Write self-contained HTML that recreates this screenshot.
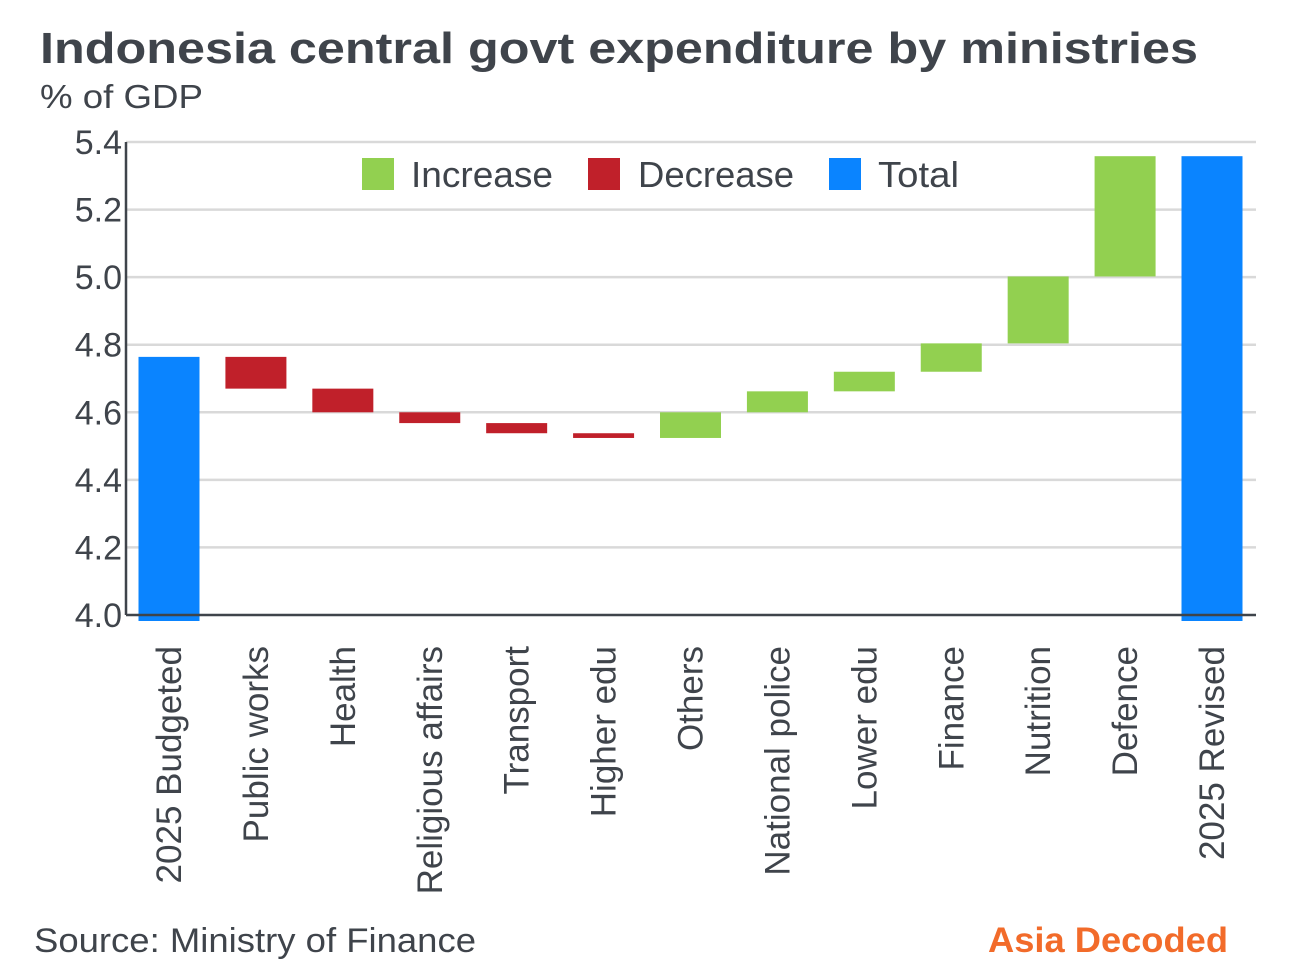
<!DOCTYPE html>
<html><head><meta charset="utf-8"><style>
body{margin:0;background:#fff;}
svg{display:block;font-family:"Liberation Sans",sans-serif;}
</style></head><body>
<svg id="c" width="1299" height="967">
<text x="40" y="63" font-size="44" font-weight="bold" fill="#3f444b" textLength="1158" lengthAdjust="spacingAndGlyphs">Indonesia central govt expenditure by ministries</text>
<text x="40" y="108" font-size="33" fill="#3f444b" textLength="163" lengthAdjust="spacingAndGlyphs">% of GDP</text>
<g id="grid"></g><g id="bars"></g><g id="xl"></g>
<line x1="126" y1="142" x2="126" y2="615" stroke="#3f444b" stroke-width="2.5"/>
<line x1="126" y1="615" x2="1256" y2="615" stroke="#3f444b" stroke-width="2.5"/>
<g>
<rect x="362" y="158" width="32" height="32" fill="#92d050"/>
<text x="411" y="187" font-size="36" fill="#3f444b" textLength="142" lengthAdjust="spacingAndGlyphs">Increase</text>
<rect x="588" y="158" width="32" height="32" fill="#c0202a"/>
<text x="638" y="187" font-size="36" fill="#3f444b" textLength="156" lengthAdjust="spacingAndGlyphs">Decrease</text>
<rect x="829" y="158" width="32" height="32" fill="#0a84ff"/>
<text x="878" y="187" font-size="36" fill="#3f444b" textLength="81" lengthAdjust="spacingAndGlyphs">Total</text>
</g>
<text x="34" y="952" font-size="34" fill="#3f444b" textLength="442" lengthAdjust="spacingAndGlyphs">Source: Ministry of Finance</text>
<text x="988" y="952" font-size="35" font-weight="bold" fill="#f26b2a" textLength="240" lengthAdjust="spacingAndGlyphs">Asia Decoded</text>
</svg>
<script>
const categories=["2025 Budgeted","Public works","Health","Religious affairs","Transport","Higher edu","Others","National police","Lower edu","Finance","Nutrition","Defence","2025 Revised"];
const deltas=[4.764,-0.094,-0.070,-0.032,-0.030,-0.014,0.076,0.062,0.058,0.084,0.198,0.356,null];
const yTicks=[4.0,4.2,4.4,4.6,4.8,5.0,5.2,5.4];
const ns="http://www.w3.org/2000/svg";
const y=v=>615-(v-4.0)*(473/1.4);
const x=i=>169+i*(1212-169)/12;
const bw=61;
const grid=document.getElementById('grid'),bars=document.getElementById('bars'),xl=document.getElementById('xl');
function mk(t,a,p){const e=document.createElementNS(ns,t);for(const k in a)e.setAttribute(k,a[k]);p.appendChild(e);return e;}
yTicks.forEach(v=>{
 if(v>4.0){const l=mk('line',{x1:126,x2:1256,y1:y(v),y2:y(v),stroke:'#d9d9d9','stroke-width':2.5},grid);
 
 }
 const t=mk('text',{x:122,y:y(v)+12,'font-size':34,fill:'#3f444b','text-anchor':'end'},grid);t.textContent=v.toFixed(1);
 
 
});
let run=0;
categories.forEach((c,i)=>{
 let top,bot,col;
 if(i===0){run=deltas[0];top=y(run);bot=621;col='#0a84ff';}
 else if(deltas[i]===null){top=y(run);bot=621;col='#0a84ff';}
 else{const n=run+deltas[i];top=y(Math.max(run,n));bot=y(Math.min(run,n));col=deltas[i]>0?'#92d050':'#c0202a';run=n;}
 const r=mk('rect',{x:x(i)-bw/2,y:top,width:bw,height:Math.max(bot-top,1),fill:col},bars);
 
 
 const t=mk('text',{x:0,y:0,'font-size':35,fill:'#3f444b','text-anchor':'end',transform:`translate(${x(i)+12},646) rotate(-90)`},xl);
 t.textContent=c;
 
 
});
</script>
</body></html>
